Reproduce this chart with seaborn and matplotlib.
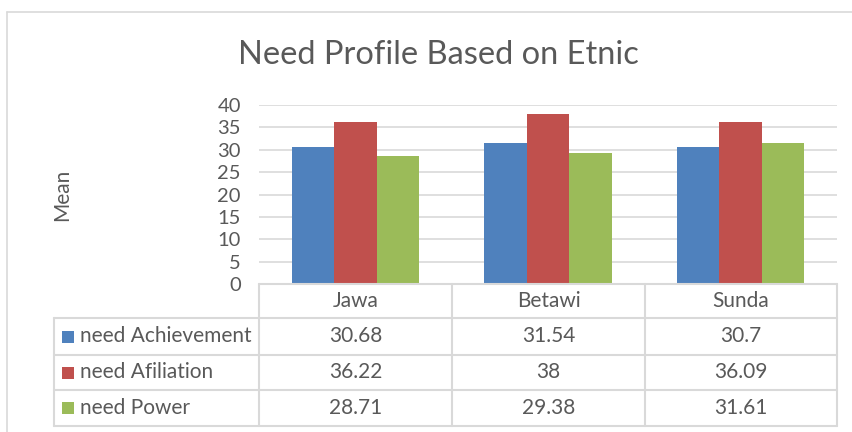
import matplotlib
matplotlib.use("Agg")
import matplotlib.pyplot as plt
import seaborn as sns
import pandas as pd
from matplotlib.lines import Line2D
from matplotlib.patches import Rectangle

categories = ["Jawa", "Betawi", "Sunda"]
series = ["need Achievement", "need Afiliation", "need Power"]
achievement = [30.68, 31.54, 30.7]
afiliation = [36.22, 38, 36.09]
power = [28.71, 29.38, 31.61]
colors = ["#4f81bd", "#c0504d", "#9bbb59"]
yticks = [0, 5, 10, 15, 20, 25, 30, 35, 40]
title = "Need Profile Based on Etnic"
ylabel = "Mean"

values = [achievement, afiliation, power]
rows = []
for s, vals in zip(series, values):
    for c, v in zip(categories, vals):
        rows.append({"Etnic": c, "Need": s, "Mean": v})
df = pd.DataFrame(rows)

sns.set_theme(style="white")
plt.rcParams["font.family"] = ["Lato", "DejaVu Sans"]
TXT = "#595959"
GRID = "#d9d9d9"
TBL = "#d9d9d9"
FS = 15

W, H = 852, 432
fig = plt.figure(figsize=(W / 100, H / 100), dpi=100)
fig.patch.set_facecolor("white")

def fx(x):
    return x / W

def fy(y):
    return 1 - y / H

# plot area
left, right, top, bottom = 259, 837, 105, 284
ax = fig.add_axes([fx(left), fy(bottom), (right - left) / W, (bottom - top) / H])
sns.barplot(data=df, x="Etnic", y="Mean", hue="Need", order=categories,
            hue_order=series, palette=colors, saturation=1, width=0.66,
            linewidth=0, edgecolor="none", legend=False, ax=ax)
ax.set_ylim(0, 40)
ax.set_xlim(-0.5, len(categories) - 0.5)
ax.set_yticks(yticks)
ax.set_yticklabels([str(t) for t in yticks], color=TXT, fontsize=14.5)
ax.set_xticks([])
ax.set_xlabel("")
ax.set_ylabel("")
ax.yaxis.grid(True, color=GRID, lw=1.2)
ax.set_axisbelow(True)
ax.tick_params(axis="y", length=0, pad=13)
for sp in ax.spines.values():
    sp.set_visible(False)

# title and y label
fig.text(fx(438), fy(55), title, ha="center", va="center", fontsize=23.5, color=TXT)
fig.text(fx(62), fy(195), ylabel, ha="center", va="center", rotation=90,
         fontsize=15, color=TXT)

# chart outer border
fig.add_artist(Line2D([fx(7), fx(7)], [fy(12), 0], transform=fig.transFigure, color=TBL, lw=1.2))
fig.add_artist(Line2D([fx(7), 1], [fy(12), fy(12)], transform=fig.transFigure, color=TBL, lw=1.2))

# data table
xcols = [54, 259, 452, 645, 837]
yrows = [284, 318, 355, 390, 426]

def hline(x0, x1, y):
    fig.add_artist(Line2D([fx(x0), fx(x1)], [fy(y), fy(y)], transform=fig.transFigure, color=TBL, lw=1.5))

def vline(x, y0, y1):
    fig.add_artist(Line2D([fx(x), fx(x)], [fy(y0), fy(y1)], transform=fig.transFigure, color=TBL, lw=1.5))

hline(xcols[1], xcols[-1], yrows[0])
for y in yrows[1:]:
    hline(xcols[0], xcols[-1], y)
vline(xcols[0], yrows[1], yrows[-1])
for x in xcols[1:]:
    vline(x, yrows[0], yrows[-1])

for i, c in enumerate(categories):
    cx = (xcols[i + 1] + xcols[i + 2]) / 2
    cy = (yrows[0] + yrows[1]) / 2
    fig.text(fx(cx), fy(cy), c, ha="center", va="center", fontsize=FS, color=TXT)

for r, (s, vals, col) in enumerate(zip(series, values, colors)):
    cy = (yrows[r + 1] + yrows[r + 2]) / 2
    fig.add_artist(Rectangle((fx(62), fy(cy + 6)), 12 / W, 12 / H,
                             transform=fig.transFigure, facecolor=col, edgecolor="none"))
    fig.text(fx(80), fy(cy), s, ha="left", va="center", fontsize=FS, color=TXT)
    for i, v in enumerate(vals):
        cx = (xcols[i + 1] + xcols[i + 2]) / 2
        fig.text(fx(cx), fy(cy), f"{v:g}", ha="center", va="center", fontsize=FS, color=TXT)

fig.savefig("out.png", dpi=100)
